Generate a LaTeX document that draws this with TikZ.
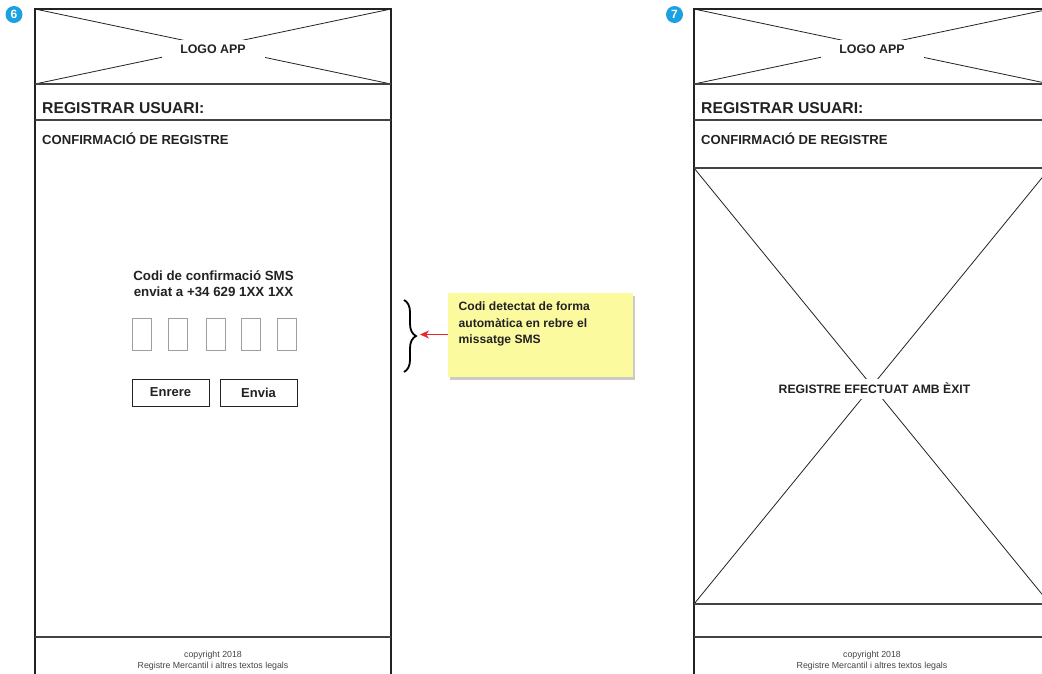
\documentclass[tikz,border=0pt]{standalone}
\usepackage{fontspec}
\setmainfont{Liberation Sans}
\usetikzlibrary{decorations.pathreplacing,shadows,arrows.meta}
\definecolor{badgeblue}{HTML}{1BA1E2}
\definecolor{notefill}{HTML}{FCFA9E}
\definecolor{ink}{HTML}{222222}
\definecolor{arrowred}{HTML}{E8262B}

\tikzset{
  frameline/.style={draw=ink, line width=1.2pt},
  divider/.style={draw=ink!85, line width=1.3pt},
  xline/.style={draw=ink, line width=0.8pt},
  badge/.style={circle, fill=badgeblue, text=white, inner sep=0pt,
    minimum size=17pt, font=\bfseries\fontsize{12}{12}\selectfont},
  screentitle/.style={anchor=base west, inner sep=0pt, text=ink,
    font=\bfseries\fontsize{15.7}{17}\selectfont},
  screensub/.style={anchor=base west, inner sep=0pt, text=ink,
    font=\bfseries\fontsize{13.1}{14}\selectfont},
  logo/.style={fill=white, inner sep=0pt, minimum width=103pt, minimum height=19pt,
    text=ink, font=\bfseries\fontsize{12.4}{13}\selectfont},
  bigx/.style={fill=white, inner sep=0pt, minimum height=20pt, inner xsep=6pt,
    text=ink, font=\bfseries\fontsize{12.2}{13}\selectfont},
  prompt/.style={align=center, inner sep=0pt, text=ink,
    font=\bfseries\fontsize{13.3}{16}\selectfont},
  codebox/.style={draw=gray!75, line width=0.9pt, inner sep=0pt,
    minimum width=19pt, minimum height=32pt},
  button/.style={draw=ink, line width=1pt, inner sep=0pt, minimum width=77pt,
    minimum height=27pt, text=ink, font=\bfseries\fontsize{13}{13}\selectfont},
  footer/.style={align=center, inner sep=0pt, text=ink!85,
    font=\fontsize{8.8}{11}\selectfont},
  note/.style={fill=notefill, inner sep=0pt, minimum width=185pt, minimum height=84pt,
    drop shadow={shadow xshift=1.5pt, shadow yshift=-3pt, opacity=0.35, fill=black!60}},
  notetext/.style={anchor=north west, align=left, inner sep=0pt, text=ink,
    font=\bfseries\fontsize{12.1}{16.5}\selectfont},
  pointer/.style={draw=arrowred, line width=1.2pt, -{Stealth[length=9pt,width=8pt]}},
  bracket/.style={draw=black, line width=1.8pt,
    decorate, decoration={brace, amplitude=12pt, aspect=0.5}},
}

\begin{document}
\begin{tikzpicture}[x=1pt, y=-1pt]
\useasboundingbox (0,0) rectangle (1042,673);
\clip (0,0) rectangle (1042,673);

% ---------- screen 6 : SMS confirmation ----------
\draw[xline] (35,9) -- (391,84);
\draw[xline] (35,84) -- (391,9);
\draw[frameline] (35,680) -- (35,9) -- (391,9) -- (391,680);
\draw[divider] (35,84) -- (391,84);
\draw[divider] (35,120) -- (391,120);
\draw[divider] (35,637) -- (391,637);

\node[badge] (n6) at (14,14.5) {6};
\node[logo] (logoA) at (213,49) {LOGO APP};
\node[screentitle] (titleA) at (42,113.5) {REGISTRAR USUARI:};
\node[screensub] (subA) at (42,144.5) {CONFIRMACIÓ DE REGISTRE};

\node[prompt, anchor=base] (prompt) at (213.5,296.5)
  {Codi de confirmació SMS\\enviat a +34 629 1XX 1XX};

\foreach \i/\x in {1/142, 2/178, 3/215.5, 4/251, 5/287}
  \node[codebox] (digit\i) at (\x,334) {};

\node[button] (back) at (170.5,392.5) {Enrere};
\node[button] (send) at (258.5,392.5) {Envia};

\node[footer, anchor=base] (footA) at (213,657.5) {copyright 2018};
\node[footer, anchor=base] (legalA) at (213,668.5) {Registre Mercantil i altres textos legals};

% ---------- annotation ----------
\draw[bracket] (404,300) -- (404,372);
\node[note] (note) at (540.5,334.5) {};
\coordinate (bracetip) at (420,334.5);
\node[notetext] (notetxt) at (458.5,302)
  {Codi detectat de forma\\automàtica en rebre el\\missatge SMS};
\draw[pointer] (note.west) -- (bracetip);

% ---------- screen 7 : registration done ----------
\draw[xline] (694,9) -- (1050,84);
\draw[xline] (694,84) -- (1050,9);
\draw[xline] (694,168) -- (1050,604);
\draw[xline] (694,604) -- (1050,168);
\draw[frameline] (694,680) -- (694,9) -- (1050,9) -- (1050,680);
\draw[divider] (694,84) -- (1050,84);
\draw[divider] (694,120) -- (1050,120);
\draw[divider] (694,168) -- (1050,168);
\draw[divider] (694,604) -- (1050,604);
\draw[divider] (694,637) -- (1050,637);

\node[badge] (n7) at (674.5,14.5) {7};
\node[logo] (logoB) at (872,49) {LOGO APP};
\node[screentitle] (titleB) at (701,113.5) {REGISTRAR USUARI:};
\node[screensub] (subB) at (701,144.5) {CONFIRMACIÓ DE REGISTRE};
\node[bigx] (done) at (874.5,388.5) {REGISTRE EFECTUAT AMB ÈXIT};

\node[footer, anchor=base] (footB) at (872,657.5) {copyright 2018};
\node[footer, anchor=base] (legalB) at (872,668.5) {Registre Mercantil i altres textos legals};
\end{tikzpicture}
\end{document}
